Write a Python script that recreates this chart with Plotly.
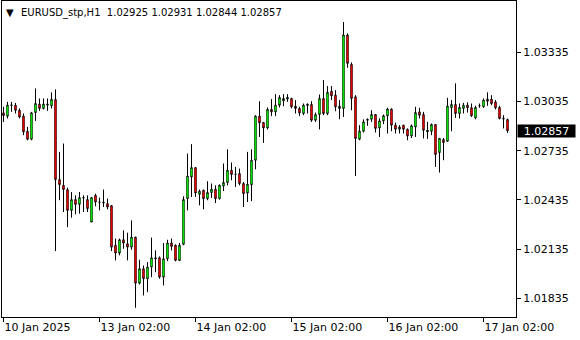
import plotly.graph_objects as go

opens = [1.02966, 1.02946, 1.03012, 1.03013, 1.02982, 1.02946, 1.02854, 1.02805, 1.02968, 1.03019,
         1.02993, 1.03013, 1.03009, 1.03048, 1.02559, 1.02524, 1.02498, 1.02371, 1.02437, 1.02408,
         1.02447, 1.02437, 1.02300, 1.02463, 1.02422, 1.02416, 1.02412, 1.02400, 1.02158, 1.02111,
         1.02192, 1.02168, 1.02147, 1.02208, 1.01927, 1.02015, 1.01954, 1.02025, 1.02082, 1.02082,
         1.01964, 1.02076, 1.02172, 1.02158, 1.02066, 1.02164, 1.02443, 1.02575, 1.02632, 1.02469,
         1.02494, 1.02443, 1.02480, 1.02500, 1.02443, 1.02520, 1.02541, 1.02616, 1.02591, 1.02596,
         1.02535, 1.02477, 1.02528, 1.02677, 1.02946, 1.02907, 1.02874, 1.02987, 1.02972, 1.03013,
         1.03039, 1.03050, 1.03054, 1.03007, 1.02993, 1.02962, 1.03011, 1.03017, 1.02921, 1.02956,
         1.03054, 1.02962, 1.03098, 1.03074, 1.03007, 1.02993, 1.03441, 1.03262, 1.03064, 1.02805,
         1.02854, 1.02921, 1.02927, 1.02956, 1.02874, 1.02917, 1.02948, 1.02989, 1.02891, 1.02866,
         1.02891, 1.02866, 1.02825, 1.02880, 1.02972, 1.02956, 1.02850, 1.02854, 1.02895, 1.02724,
         1.02803, 1.02793, 1.02997, 1.03017, 1.02962, 1.02993, 1.03013, 1.02997, 1.02935, 1.03009,
         1.03003, 1.03050, 1.03050, 1.03033, 1.02999, 1.02932, 1.02925]
highs = [1.03003, 1.03033, 1.03033, 1.03027, 1.02993, 1.02962, 1.02880, 1.02972, 1.03115, 1.03054,
         1.03054, 1.03054, 1.03091, 1.03109, 1.02728, 1.02779, 1.02510, 1.02483, 1.02463, 1.02483,
         1.02463, 1.02463, 1.02453, 1.02473, 1.02449, 1.02498, 1.02443, 1.02403, 1.02199, 1.02199,
         1.02249, 1.02235, 1.02310, 1.02210, 1.02070, 1.02035, 1.02056, 1.02205, 1.02127, 1.02090,
         1.02172, 1.02192, 1.02199, 1.02164, 1.02172, 1.02457, 1.02718, 1.02775, 1.02635, 1.02498,
         1.02498, 1.02549, 1.02535, 1.02524, 1.02530, 1.02657, 1.02744, 1.02663, 1.02636, 1.02626,
         1.02544, 1.02728, 1.02744, 1.02952, 1.03037, 1.02911, 1.02999, 1.03050, 1.03080, 1.03074,
         1.03080, 1.03080, 1.03058, 1.03044, 1.03003, 1.03023, 1.03023, 1.03037, 1.02968, 1.03078,
         1.03166, 1.03129, 1.03129, 1.03105, 1.03044, 1.03520, 1.03451, 1.03274, 1.03074, 1.02891,
         1.02926, 1.02932, 1.02982, 1.02958, 1.02932, 1.02956, 1.02997, 1.02993, 1.02907, 1.02891,
         1.02893, 1.02871, 1.02895, 1.03003, 1.02997, 1.02972, 1.02911, 1.02901, 1.02897, 1.02813,
         1.02813, 1.03058, 1.03044, 1.03146, 1.03023, 1.03027, 1.03030, 1.03023, 1.03009, 1.03023,
         1.03054, 1.03091, 1.03074, 1.03044, 1.03009, 1.02952, 1.02931]
lows = [1.02911, 1.02932, 1.02972, 1.02962, 1.02932, 1.02830, 1.02799, 1.02799, 1.02917, 1.02978,
        1.02987, 1.02978, 1.02993, 1.02123, 1.02433, 1.02361, 1.02269, 1.02327, 1.02347, 1.02351,
        1.02361, 1.02361, 1.02300, 1.02396, 1.02371, 1.02392, 1.02378, 1.02123, 1.02066, 1.02097,
        1.02137, 1.02066, 1.02131, 1.01777, 1.01919, 1.01852, 1.01872, 1.01964, 1.01994, 1.01954,
        1.01913, 1.02062, 1.02127, 1.02060, 1.02062, 1.02158, 1.02371, 1.02453, 1.02453, 1.02402,
        1.02378, 1.02433, 1.02447, 1.02416, 1.02437, 1.02489, 1.02524, 1.02555, 1.02514, 1.02524,
        1.02392, 1.02422, 1.02428, 1.02622, 1.02819, 1.02783, 1.02865, 1.02946, 1.02946, 1.02999,
        1.03007, 1.03033, 1.02993, 1.02962, 1.02946, 1.02952, 1.02962, 1.02911, 1.02911, 1.02865,
        1.02952, 1.02952, 1.03044, 1.02976, 1.02927, 1.02941, 1.03241, 1.02982, 1.02581, 1.02799,
        1.02846, 1.02887, 1.02911, 1.02846, 1.02819, 1.02897, 1.02840, 1.02854, 1.02840, 1.02840,
        1.02840, 1.02799, 1.02813, 1.02819, 1.02932, 1.02810, 1.02807, 1.02830, 1.02636, 1.02602,
        1.02677, 1.02789, 1.02854, 1.02935, 1.02932, 1.02962, 1.02968, 1.02941, 1.02927, 1.02997,
        1.02997, 1.03009, 1.03013, 1.02987, 1.02926, 1.02871, 1.02844]
closes = [1.02950, 1.03013, 1.03014, 1.02982, 1.02941, 1.02850, 1.02805, 1.02966, 1.03023, 1.02993,
          1.03019, 1.03019, 1.03048, 1.02559, 1.02528, 1.02498, 1.02371, 1.02437, 1.02408, 1.02449,
          1.02449, 1.02382, 1.02449, 1.02422, 1.02421, 1.02420, 1.02392, 1.02147, 1.02111, 1.02192,
          1.02172, 1.02147, 1.02208, 1.01927, 1.02015, 1.01954, 1.02025, 1.02082, 1.02076, 1.01964,
          1.02076, 1.02172, 1.02151, 1.02066, 1.02158, 1.02437, 1.02581, 1.02632, 1.02477, 1.02488,
          1.02443, 1.02480, 1.02500, 1.02443, 1.02524, 1.02541, 1.02616, 1.02590, 1.02592, 1.02535,
          1.02473, 1.02530, 1.02677, 1.02946, 1.02905, 1.02874, 1.02987, 1.02972, 1.03013, 1.03060,
          1.03054, 1.03060, 1.03003, 1.02993, 1.02966, 1.03013, 1.03019, 1.02921, 1.02956, 1.03054,
          1.02962, 1.03091, 1.03070, 1.03003, 1.02993, 1.03441, 1.03268, 1.03054, 1.02810, 1.02854,
          1.02911, 1.02926, 1.02956, 1.02871, 1.02917, 1.02948, 1.02989, 1.02891, 1.02866, 1.02880,
          1.02866, 1.02825, 1.02887, 1.02968, 1.02952, 1.02860, 1.02860, 1.02895, 1.02712, 1.02810,
          1.02785, 1.03007, 1.03017, 1.02962, 1.02999, 1.03013, 1.02997, 1.02948, 1.02999, 1.03010,
          1.03044, 1.03037, 1.03023, 1.02997, 1.02932, 1.02929, 1.02857]

bar_index = list(range(len(closes)))

x_tick_positions = [0, 24, 48, 72, 96, 120]
x_tick_labels = ["10 Jan 2025", "13 Jan 02:00", "14 Jan 02:00",
                 "15 Jan 02:00", "16 Jan 02:00", "17 Jan 02:00"]
y_tick_values = [1.01835, 1.02135, 1.02435, 1.02735, 1.03035, 1.03335]

symbol = "EURUSD_stp,H1"
last_price = closes[-1]

FONT = "DejaVu Sans"
UP = "#00e000"
DOWN = "#e00000"

fig = go.Figure(go.Candlestick(
    x=bar_index, open=opens, high=highs, low=lows, close=closes,
    increasing=dict(line=dict(color="black", width=1), fillcolor=UP),
    decreasing=dict(line=dict(color="black", width=1), fillcolor=DOWN),
    whiskerwidth=0, hoverinfo="skip",
))

# bright body interiors drawn on top of the candle outlines
inset = 0.00007
for colour, want_up in ((UP, True), (DOWN, False)):
    xs, ys = [], []
    for k, (o, c) in enumerate(zip(opens, closes)):
        if (c >= o) != want_up:
            continue
        lo, hi = min(o, c), max(o, c)
        if hi - lo <= 2.2 * inset:
            continue
        xs += [k, k, None]
        ys += [lo + inset, hi - inset, None]
    fig.add_trace(go.Scatter(x=xs, y=ys, mode="lines", hoverinfo="skip",
                             line=dict(color=colour, width=1.6), connectgaps=False))

header = (symbol + "\u00a0\u00a0" +
          " ".join(f"{v:.5f}" for v in [opens[-1], highs[-1], lows[-1], closes[-1]]))

fig.update_layout(
    width=580, height=340,
    margin=dict(l=2, r=64, t=1, b=23),
    paper_bgcolor="white", plot_bgcolor="white",
    showlegend=False, boxgap=0.5,
    font=dict(family=FONT, size=11, color="black"),
    xaxis=dict(
        range=[-0.375, 128.125], rangeslider=dict(visible=False),
        showgrid=False, zeroline=False,
        showline=True, linecolor="black", linewidth=1, mirror=True,
        tickmode="array", tickvals=x_tick_positions, ticktext=x_tick_labels,
        ticks="outside", ticklen=4, tickcolor="black",
        ticklabelposition="outside right",
        tickfont=dict(family=FONT, size=11, color="black"),
    ),
    yaxis=dict(
        range=[1.017207, 1.036484], side="right",
        showgrid=False, zeroline=False,
        showline=True, linecolor="black", linewidth=1, mirror=True,
        tickmode="array", tickvals=y_tick_values, tickformat=".5f",
        ticks="outside", ticklen=4, tickcolor="black",
        tickfont=dict(family=FONT, size=11, color="black"),
    ),
    annotations=[
        dict(xref="paper", yref="paper", x=0, y=1, xanchor="left", yanchor="top",
             xshift=2, yshift=-4, text="▼", showarrow=False,
             font=dict(family=FONT, size=10, color="black")),
        dict(xref="paper", yref="paper", x=0, y=1, xanchor="left", yanchor="top",
             xshift=17, yshift=-4, text=header, showarrow=False,
             font=dict(family=FONT, size=10, color="black")),
        dict(xref="paper", yref="y", x=1, y=last_price, xanchor="left", yanchor="middle",
             xshift=1, text=f"{last_price:.5f}", showarrow=False,
             bgcolor="black", width=57, height=12, borderpad=0, align="center",
             font=dict(family=FONT, size=11, color="white")),
    ],
)

fig.write_html("out.html")
